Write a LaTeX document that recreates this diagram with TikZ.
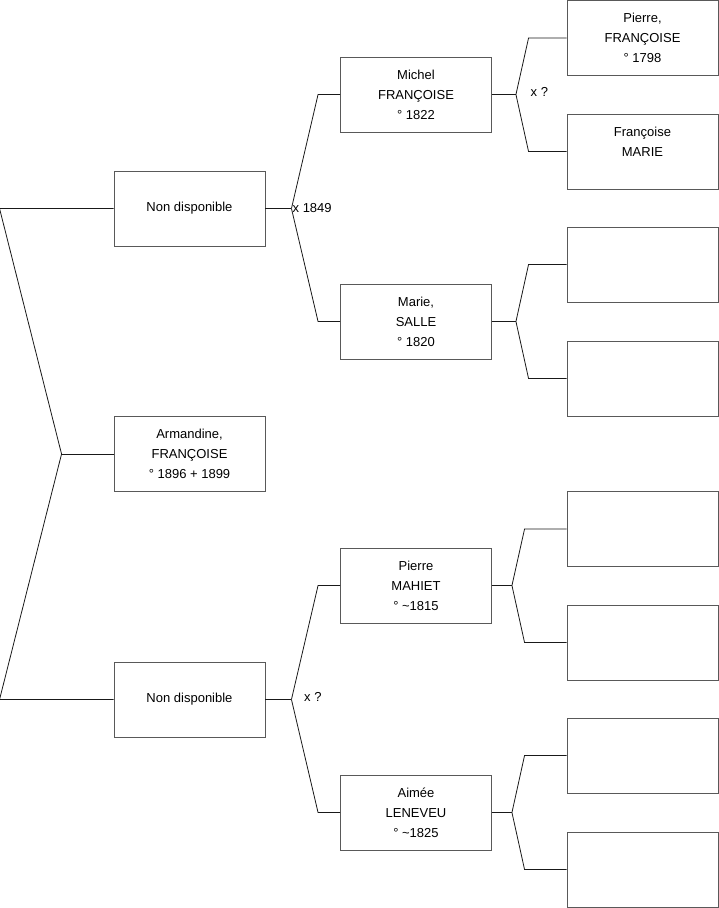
\documentclass[tikz,border=0pt]{standalone}
\usepackage{fontspec}
\setmainfont{Liberation Sans}
\usetikzlibrary{positioning,calc}

\tikzset{
  person/.style={draw=black!65, line width=0.9pt, minimum width=151pt, minimum height=75pt,
    inner sep=0pt, align=center, font=\fontsize{13}{20}\selectfont},
  link/.style={draw=black!90, line width=0.8pt},
  union/.style={font=\fontsize{13}{20}\selectfont, inner sep=0pt, anchor=west}
}

\begin{document}
\begin{tikzpicture}[x=1pt,y=-1pt]
    \useasboundingbox (0,0) rectangle (719,908);

    % Generation 1
    \node[person] (arm) at (189.5,454) {Armandine,\\FRANÇOISE\\° 1896 + 1899};

    % Generation 2
    \node[person] (nd1) at (189.5,208.5) {Non disponible};
    \node[person] (nd2) at (189.5,699.5) {Non disponible};

    % Generation 3
    \node[person] (mic) at (416,94.5) {Michel\\FRANÇOISE\\° 1822};
    \node[person] (mar) at (416,321.5) {Marie,\\SALLE\\° 1820};
    \node[person] (pm) at (416,585.5) {Pierre\\MAHIET\\° \textasciitilde1815};
    \node[person] (aim) at (416,812.5) {Aimée\\LENEVEU\\° \textasciitilde1825};

    % Generation 4
    \node[person] (pf) at (642.5,38) {Pierre,\\FRANÇOISE\\° 1798};
    \node[person] (fm) at (642.5,151.5) {Françoise\\MARIE\\\mbox{}};
    \node[person] (g3) at (642.5,264.5) {};
    \node[person] (g4) at (642.5,378.5) {};
    \node[person] (g5) at (642.5,529) {};
    \node[person] (g6) at (642.5,642.5) {};
    \node[person] (g7) at (642.5,755.5) {};
    \node[person] (g8) at (642.5,869.5) {};

    % Armandine -> parents
    \draw[link] (arm.west) -- ++(-52,0) coordinate (f0);
    \draw[link] (f0) -- ([xshift=-114pt]nd1.west) -- (nd1.west);
    \draw[link] (f0) -- ([xshift=-114pt]nd2.west) -- (nd2.west);

    % father side
    \draw[link] (nd1.east) -- ++(26,0) coordinate (f1);
    \draw[link] (f1) -- ([xshift=-22pt]mic.west) -- (mic.west);
    \draw[link] (f1) -- ([xshift=-22pt]mar.west) -- (mar.west);
    \node[union] (u1) at ([xshift=1pt]f1) {x 1849};

    \draw[link] (mic.east) -- ++(24,0) coordinate (f2);
    \draw[link] (f2) -- ([xshift=-38pt]pf.west) -- (pf.west);
    \draw[link] (f2) -- ([xshift=-38pt]fm.west) -- (fm.west);
    \node[union] (u2) at (530.5,92) {x ?};

    \draw[link] (mar.east) -- ++(24,0) coordinate (f3);
    \draw[link] (f3) -- ([xshift=-38pt]g3.west) -- (g3.west);
    \draw[link] (f3) -- ([xshift=-38pt]g4.west) -- (g4.west);

    % mother side
    \draw[link] (nd2.east) -- ++(26,0) coordinate (f4);
    \draw[link] (f4) -- ([xshift=-22pt]pm.west) -- (pm.west);
    \draw[link] (f4) -- ([xshift=-22pt]aim.west) -- (aim.west);
    \node[union] (u3) at (304,697) {x ?};

    \draw[link] (pm.east) -- ++(20,0) coordinate (f5);
    \draw[link] (f5) -- ([xshift=-42pt]g5.west) -- (g5.west);
    \draw[link] (f5) -- ([xshift=-42pt]g6.west) -- (g6.west);

    \draw[link] (aim.east) -- ++(20,0) coordinate (f6);
    \draw[link] (f6) -- ([xshift=-42pt]g7.west) -- (g7.west);
    \draw[link] (f6) -- ([xshift=-42pt]g8.west) -- (g8.west);
\end{tikzpicture}
\end{document}
